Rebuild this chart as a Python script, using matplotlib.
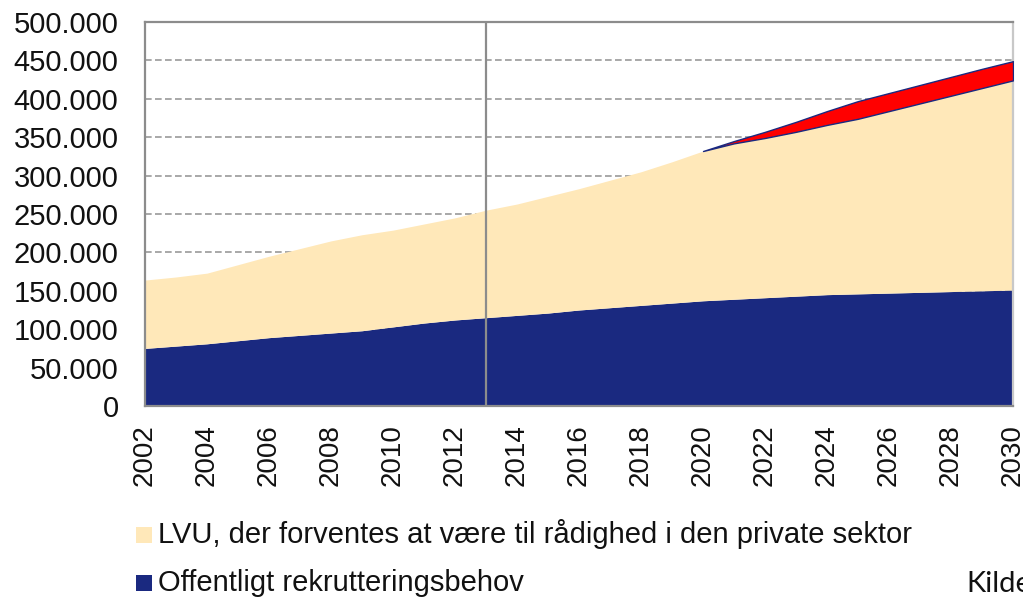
import matplotlib
matplotlib.use("Agg")
import matplotlib.pyplot as plt
from matplotlib.patches import Rectangle
from matplotlib.ticker import FuncFormatter, MultipleLocator
import numpy as np

years = list(range(2002, 2031))
# Offentligt rekrutteringsbehov (bottom layer)
offentligt = [75000, 78000, 81000, 85000, 89000, 92000, 95000, 98000, 103000, 108000,
              112000, 115000, 118000, 121000, 125000, 128000, 131000, 134000, 137000, 139000,
              141000, 143000, 145000, 146000, 147000, 148000, 149000, 150000, 151000]
# LVU til rådighed i privat sektor (top of stacked area)
lvu_total = [164000, 168000, 173000, 184000, 195000, 205000, 215000, 223000, 229000, 237000,
             245000, 255000, 263000, 273000, 283000, 294000, 305000, 318000, 332000, 342000,
             349000, 357000, 366000, 374000, 384000, 394000, 404000, 414000, 424000]
# Red gap area (projection shortfall)
gap = [0, 0, 0, 0, 0, 0, 0, 0, 0, 0,
       0, 0, 0, 0, 0, 0, 0, 0, 0, 3000,
       8000, 13000, 18000, 23000, 23500, 24000, 24500, 25000, 25000]
xticks = list(range(2002, 2031, 2))
divider_year = 2013
legend_labels = ["LVU, der forventes at være til rådighed i den private sektor",
                 "Offentligt rekrutteringsbehov"]
source_text = "Kilde"

c_blue = "#1A2980"
c_beige = "#FFE8B9"
c_red = "#FF0000"
grey = "#8C8C8C"
W, H = 1023, 597

fig = plt.figure(figsize=(W/100, H/100), dpi=100)
ax = fig.add_axes([145/W, 1-406/H, (1013-145)/W, (406-22)/H])

ax.fill_between(years, 0, offentligt, color=c_blue, lw=0, zorder=2)
ax.fill_between(years, offentligt, lvu_total, color=c_beige, lw=0, zorder=2)

yrs = np.array(years); g = np.array(gap); t = np.array(lvu_total)
start = np.argmax(g > 0) - 1
ax.fill_between(yrs[start:], t[start:], t[start:] + g[start:], color=c_red,
                edgecolor=c_blue, lw=1.0, zorder=3)

ax.axvline(divider_year, color=grey, lw=1.6, zorder=4)

ax.set_xlim(2002, 2030)
ax.set_ylim(0, 500000)
ax.yaxis.set_major_locator(MultipleLocator(50000))
ax.yaxis.set_major_formatter(FuncFormatter(lambda v, p: f"{int(v):,}".replace(",", ".")))
ax.set_xticks(xticks)
ax.set_xticklabels([str(x) for x in xticks], rotation=90, va="top", ha="center")
ax.grid(axis="y", color="#9A9A9A", ls=(0, (4, 2)), lw=1.2, zorder=1)
ax.set_axisbelow(True)
ax.tick_params(axis="x", length=0, labelsize=20, pad=13)
ax.tick_params(axis="y", length=0, labelsize=21, pad=19)
for lab in ax.get_xticklabels() + ax.get_yticklabels():
    lab.set_family(["Liberation Sans", "DejaVu Sans"])
    lab.set_color("#111111")
for s in ax.spines.values():
    s.set_color(grey)
    s.set_linewidth(1.6)
ax.spines["right"].set_color("#C8C8C8")

# legend (manual, to match reference placement)
for i, (col, lab) in enumerate(zip([c_beige, c_blue], legend_labels)):
    y_top = 527 + 48 * i
    fig.patches.append(Rectangle((136/W, 1-(y_top+16)/H), 16/W, 16/H,
                                 transform=fig.transFigure, facecolor=col, edgecolor="none"))
    fig.text(158/W, 1-(543 + 48*i)/H, lab, fontsize=21, family=["Liberation Sans", "DejaVu Sans"],
             ha="left", va="baseline", color="#111111")

fig.text(966/W, 1-592/H, source_text, fontsize=21, family=["Lato", "DejaVu Sans"],
         ha="left", va="baseline", color="#111111")

fig.savefig("out.png", dpi=100)
